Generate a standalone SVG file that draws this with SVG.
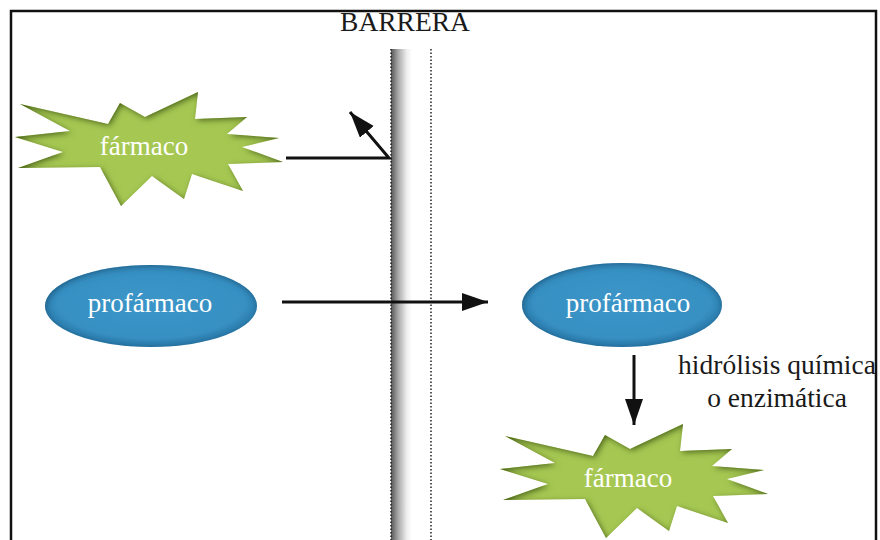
<svg xmlns="http://www.w3.org/2000/svg" xmlns:xlink="http://www.w3.org/1999/xlink" width="880" height="540" viewBox="0 0 880 540">
<style>
.lbl{font-family:"Liberation Serif","Times New Roman",serif;font-size:27px;fill:#ffffff;text-anchor:middle}
.dark{font-family:"Liberation Serif","Times New Roman",serif;font-size:27.5px;fill:#1a1a1a;text-anchor:middle}
.conn{fill:none;stroke:#111;stroke-width:3}
.dot{stroke:#222;stroke-width:1.5;stroke-dasharray:1.5 2}
</style>
<defs>
<marker id="ah" markerUnits="userSpaceOnUse" markerWidth="28" markerHeight="20" refX="26" refY="9" orient="auto">
<path d="M0,0 L26,9 L0,18 Z" fill="#111"/>
</marker>
<linearGradient id="wall" x1="0" y1="0" x2="1" y2="0">
<stop offset="0" stop-color="#555"/>
<stop offset="0.35" stop-color="#aaa"/>
<stop offset="0.75" stop-color="#eee"/>
<stop offset="1" stop-color="#fff"/>
</linearGradient>
<radialGradient id="blueG" cx="0.5" cy="0.45" r="0.55">
<stop offset="0" stop-color="#3b95c8"/>
<stop offset="0.8" stop-color="#3890c2"/>
<stop offset="1" stop-color="#2a76a6"/>
</radialGradient>
<filter id="inner" x="-10%" y="-10%" width="120%" height="120%">
<feComponentTransfer in="SourceAlpha" result="inv"><feFuncA type="table" tableValues="1 0"/></feComponentTransfer>
<feGaussianBlur in="inv" stdDeviation="3" result="blur"/>
<feOffset in="blur" dx="2" dy="2" result="off"/>
<feFlood flood-color="#3b570c" flood-opacity="1"/>
<feComposite operator="in" in2="off" result="sh"/>
<feComposite operator="in" in="sh" in2="SourceAlpha" result="ish"/>
<feMerge><feMergeNode in="SourceGraphic"/><feMergeNode in="ish"/></feMerge>
</filter>
<filter id="innerB" x="-10%" y="-10%" width="120%" height="120%">
<feComponentTransfer in="SourceAlpha" result="inv"><feFuncA type="table" tableValues="1 0"/></feComponentTransfer>
<feGaussianBlur in="inv" stdDeviation="3" result="blur"/>
<feOffset in="blur" dx="1" dy="1.5" result="off"/>
<feFlood flood-color="#154b72" flood-opacity="0.8"/>
<feComposite operator="in" in2="off" result="sh"/>
<feComposite operator="in" in="sh" in2="SourceAlpha" result="ish"/>
<feMerge><feMergeNode in="SourceGraphic"/><feMergeNode in="ish"/></feMerge>
</filter>
<polygon id="burst" points="20,104 108,124 120,103 145,117 198,92 195,119 247,117 227,134 279,138 242,147 283,162 228,164 243,191 192,174 184,199 152,176 121,206 100,167 18,168 63,152 15,137 70,131"/>
</defs>

<rect width="880" height="540" fill="#fff"/>
<g id="frame">
<path d="M11,545 L11,11 L876,11 L876,545" fill="none" stroke="#111" stroke-width="2.5"/>
</g>

<g id="barrera">
<rect x="391" y="49" width="21" height="495" fill="url(#wall)"/>
<line class="dot" x1="391" y1="49" x2="391" y2="540"/>
<line class="dot" x1="431" y1="49" x2="431" y2="540"/>
<text class="dark" x="405" y="31">BARRERA</text>
</g>

<g id="farmaco1">
<use xlink:href="#burst" fill="#a6c852" filter="url(#inner)"/>
<text class="lbl" x="144" y="155">fármaco</text>
</g>

<g id="profarmaco1">
<ellipse cx="151" cy="306" rx="106" ry="41" fill="url(#blueG)" filter="url(#innerB)"/>
<text class="lbl" x="150" y="312">profármaco</text>
</g>

<g id="profarmaco2">
<ellipse cx="622" cy="305" rx="100" ry="42" fill="url(#blueG)" filter="url(#innerB)"/>
<text class="lbl" x="628" y="312">profármaco</text>
</g>

<g id="farmaco2">
<use xlink:href="#burst" transform="translate(485,332)" fill="#a6c852" filter="url(#inner)"/>
<text class="lbl" x="628" y="487">fármaco</text>
</g>

<g id="hidrolisis">
<text class="dark" x="777" y="374">hidrólisis química</text>
<text class="dark" x="777" y="407">o enzimática</text>
</g>

<g id="connectors">
<path class="conn" d="M286,158 L389,158 L350,112" marker-end="url(#ah)"/>
<path class="conn" d="M282,302 L488,302" marker-end="url(#ah)"/>
<path class="conn" d="M634,355 L634,425" marker-end="url(#ah)"/>
</g>
</svg>
